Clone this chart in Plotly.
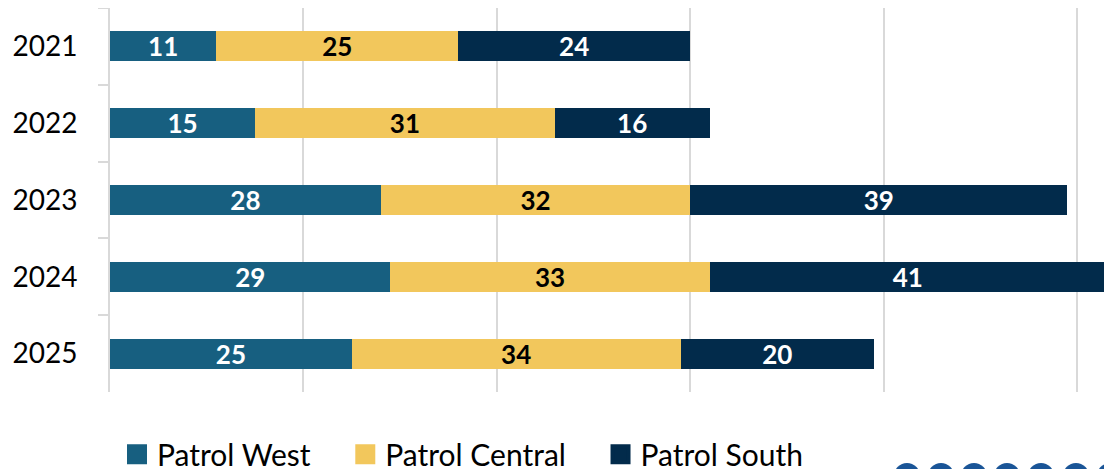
import plotly.graph_objects as go

years = ["2021", "2022", "2023", "2024", "2025"]
patrol_west = [11, 15, 28, 29, 25]
patrol_central = [25, 31, 32, 33, 34]
patrol_south = [24, 16, 39, 41, 20]

series = [
    ("Patrol West", patrol_west, "#175f80", "#ffffff"),
    ("Patrol Central", patrol_central, "#f2c75c", "#000000"),
    ("Patrol South", patrol_south, "#022b4b", "#ffffff"),
]

FONT = "Lato, 'Source Sans Pro', sans-serif"
# page body keeps its default 8px margin, so the figure is 8px smaller each way
W, H = 1104, 461
ML, MR, MT, MB = 102, 5, 0, 77

fig = go.Figure()

for name, vals, color, txtcolor in series:
    fig.add_trace(go.Bar(
        y=years, x=vals, name=name, orientation="h",
        marker=dict(color=color, line=dict(width=0)),
        text=vals, textposition="inside", insidetextanchor="middle",
        textfont=dict(family=FONT, size=26, color=txtcolor, weight="bold"),
        textangle=0, constraintext="none",
        showlegend=False, hoverinfo="x+name",
    ))

# legend entries with bigger square swatches, one legend per item so they can be placed
legend_x = [0.007, 0.236, 0.492]
for i, (name, vals, color, txtcolor) in enumerate(series):
    lg = "legend" if i == 0 else "legend%d" % (i + 1)
    fig.add_trace(go.Scatter(
        x=[None], y=[None], mode="markers", name=name,
        marker=dict(symbol="square", size=16, color=color,
                    line=dict(color=color, width=4)),
        legend=lg, showlegend=True,
    ))

legend_style = dict(orientation="h", yanchor="middle", y=-0.162, xanchor="left",
                    font=dict(family=FONT, size=30, color="#000000"),
                    bgcolor="rgba(0,0,0,0)", borderwidth=0)

pw = W - ML - MR
ph = H - MT - MB
shapes = []
# decorative row of circles at bottom right (figure pixel positions)
for cx in [899, 933, 966, 999, 1033, 1068, 1102]:
    shapes.append(dict(
        type="circle", xref="paper", yref="paper",
        x0=(cx - 13 - ML) / pw, x1=(cx + 13 - ML) / pw,
        y0=(H - MB - 481) / ph, y1=(H - MB - 455) / ph,
        fillcolor="#1a5597", line=dict(width=0), layer="above",
    ))

fig.update_layout(
    barmode="stack",
    bargap=0.61,
    width=W, height=H,
    margin=dict(l=ML, r=MR, t=MT, b=MB, autoexpand=False),
    paper_bgcolor="#ffffff", plot_bgcolor="#ffffff",
    font=dict(family=FONT, size=28, color="#000000"),
    legend=dict(legend_style, x=legend_x[0]),
    legend2=dict(legend_style, x=legend_x[1]),
    legend3=dict(legend_style, x=legend_x[2]),
    shapes=shapes,
    xaxis=dict(range=[0, 103.1], showticklabels=False, showgrid=True,
               gridcolor="#d9d9d9", gridwidth=2, zeroline=False,
               tick0=0, dtick=20, fixedrange=True, automargin=False),
    yaxis=dict(autorange="reversed", type="category", showline=True,
               linecolor="#d9d9d9", linewidth=2, ticks="outside",
               tickson="boundaries", ticklen=10, tickwidth=2,
               tickcolor="#d9d9d9", ticklabelstandoff=25,
               tickfont=dict(family=FONT, size=28, color="#000000"),
               showgrid=False, fixedrange=True, automargin=False),
)

fig.write_html("out.html")
